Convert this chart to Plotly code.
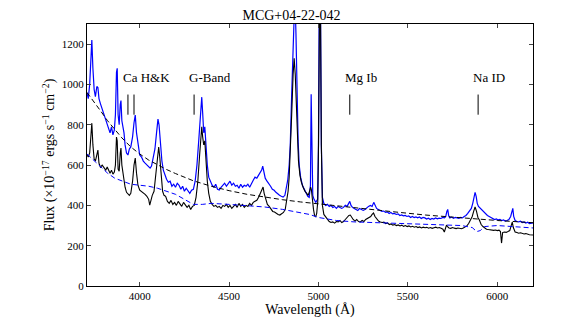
import plotly.graph_objects as go

# observed spectra (wavelength in Angstrom, flux in 1e-17 erg/s/cm2)
blue_wave = [3705, 3712, 3720, 3726, 3732, 3738, 3745, 3752, 3760, 3766, 3772, 3780, 3790, 3800, 3810,
             3818, 3826, 3834, 3842, 3850, 3858, 3864, 3870, 3874, 3879, 3885, 3891, 3895, 3900, 3906,
             3912, 3918, 3926, 3934, 3942, 3950, 3960, 3968, 3975, 3982, 3990, 4000, 4010, 4020, 4030,
             4040, 4050, 4058, 4066, 4075, 4085, 4094, 4102, 4108, 4116, 4124, 4132, 4140, 4150, 4160,
             4170, 4180, 4190, 4200, 4210, 4220, 4230, 4240, 4250, 4260, 4270, 4280, 4290, 4300, 4310,
             4320, 4330, 4340, 4347, 4352, 4358, 4364, 4370, 4378, 4386, 4395, 4405, 4415, 4425, 4435,
             4445, 4455, 4465, 4475, 4485, 4495, 4505, 4515, 4525, 4535, 4545, 4555, 4565, 4575, 4585,
             4595, 4605, 4615, 4625, 4635, 4645, 4655, 4665, 4672, 4682, 4688, 4694, 4702, 4712, 4722,
             4732, 4742, 4752, 4762, 4772, 4782, 4792, 4802, 4812, 4820, 4828, 4836, 4842, 4850, 4858,
             4862, 4868, 4874, 4880, 4886, 4892, 4900, 4910, 4920, 4930, 4940, 4948, 4955, 4959, 4963,
             4968, 4975, 4985, 4995, 5000, 5004, 5007, 5011, 5016, 5022, 5030, 5040, 5050, 5060, 5070,
             5080, 5090, 5100, 5110, 5120, 5130, 5140, 5150, 5160, 5168, 5175, 5182, 5190, 5200, 5210,
             5220, 5230, 5240, 5250, 5260, 5270, 5280, 5290, 5300, 5309, 5316, 5325, 5335, 5345, 5355,
             5365, 5375, 5385, 5395, 5405, 5415, 5425, 5435, 5445, 5455, 5465, 5475, 5485, 5495, 5505,
             5515, 5525, 5535, 5545, 5555, 5565, 5575, 5585, 5595, 5605, 5615, 5625, 5635, 5645, 5655,
             5665, 5675, 5685, 5695, 5705, 5712, 5718, 5723, 5728, 5735, 5745, 5755, 5765, 5775, 5785,
             5795, 5805, 5815, 5825, 5835, 5845, 5855, 5863, 5870, 5876, 5882, 5888, 5895, 5905, 5915,
             5925, 5935, 5945, 5955, 5965, 5975, 5985, 5995, 6005, 6015, 6025, 6035, 6045, 6055, 6065,
             6075, 6082, 6087, 6092, 6100, 6110, 6120, 6130, 6140, 6150, 6160, 6170, 6180, 6200]
blue_flux = [960, 930, 1000, 1150, 1220, 1080, 975, 940, 990, 985, 930, 905, 880, 850, 830,
             800, 790, 760, 790, 750, 775, 850, 1060, 1080, 850, 800, 900, 920, 820, 790,
             760, 700, 660, 650, 680, 690, 740, 810, 848, 760, 700, 650, 640, 620, 610,
             600, 590, 585, 595, 630, 680, 760, 828, 800, 700, 620, 575, 550, 530, 515,
             520, 495, 505, 490, 510, 500, 480, 495, 470, 485, 470, 460, 475, 480, 520,
             600, 720, 880, 937, 860, 760, 790, 700, 600, 540, 520, 500, 490, 505, 480,
             476, 490, 500, 510, 495, 505, 520, 500, 510, 495, 500, 485, 505, 490, 500,
             495, 505, 490, 510, 525, 540, 535, 550, 560, 575, 595, 570, 535, 520, 510,
             495, 480, 475, 465, 455, 450, 445, 441, 450, 480, 525, 600, 700, 950, 1250,
             1400, 1450, 1250, 950, 720, 600, 540, 500, 480, 460, 445, 440, 500, 952, 700,
             450, 430, 415, 430, 700, 1400, 1500, 1400, 700, 440, 410, 400, 405, 395, 400,
             390, 395, 385, 395, 390, 385, 390, 400, 395, 405, 420, 400, 390, 385, 380,
             375, 385, 380, 375, 380, 390, 395, 400, 395, 415, 400, 385, 380, 375, 370,
             372, 365, 368, 360, 365, 358, 360, 355, 358, 350, 353, 348, 350, 345, 348,
             340, 345, 340, 343, 338, 342, 335, 340, 338, 332, 336, 330, 335, 332, 338,
             333, 337, 335, 340, 338, 345, 370, 380, 350, 338, 342, 336, 340, 338, 336,
             340, 338, 345, 350, 360, 370, 385, 410, 440, 465, 445, 410, 395, 385, 375,
             365, 360, 350, 345, 340, 336, 330, 333, 328, 330, 325, 328, 322, 325, 330,
             345, 380, 385, 345, 325, 320, 318, 322, 315, 318, 312, 316, 310, 313]

black_wave = [3705, 3712, 3720, 3726, 3732, 3738, 3745, 3752, 3760, 3766, 3772, 3780, 3790, 3800, 3810,
              3818, 3826, 3834, 3842, 3850, 3858, 3864, 3870, 3874, 3879, 3885, 3891, 3895, 3900, 3906,
              3912, 3918, 3926, 3934, 3942, 3950, 3960, 3968, 3975, 3982, 3990, 4000, 4010, 4020, 4030,
              4040, 4050, 4056, 4062, 4070, 4080, 4090, 4100, 4106, 4112, 4120, 4128, 4136, 4145, 4155,
              4165, 4175, 4185, 4195, 4205, 4215, 4225, 4235, 4245, 4255, 4265, 4275, 4285, 4295, 4305,
              4315, 4325, 4335, 4347, 4352, 4358, 4364, 4370, 4378, 4386, 4395, 4405, 4415, 4425, 4435,
              4445, 4455, 4465, 4475, 4485, 4495, 4505, 4515, 4525, 4535, 4545, 4555, 4565, 4575, 4585,
              4595, 4605, 4615, 4625, 4635, 4645, 4655, 4665, 4672, 4682, 4690, 4696, 4704, 4714, 4724,
              4734, 4744, 4754, 4764, 4774, 4784, 4794, 4804, 4814, 4822, 4830, 4836, 4842, 4850, 4858,
              4864, 4870, 4876, 4882, 4888, 4896, 4904, 4914, 4924, 4934, 4942, 4950, 4956, 4960, 4966,
              4972, 4978, 4984, 4990, 4996, 5000, 5004, 5007, 5011, 5016, 5022, 5030, 5040, 5050, 5060,
              5070, 5080, 5090, 5100, 5110, 5120, 5130, 5140, 5150, 5160, 5170, 5178, 5186, 5194, 5204,
              5214, 5224, 5234, 5244, 5254, 5264, 5274, 5284, 5292, 5300, 5308, 5316, 5326, 5336, 5346,
              5356, 5366, 5376, 5386, 5396, 5406, 5416, 5426, 5436, 5446, 5456, 5466, 5476, 5486, 5496,
              5506, 5516, 5526, 5536, 5546, 5556, 5566, 5576, 5586, 5596, 5606, 5616, 5626, 5636, 5646,
              5656, 5666, 5676, 5686, 5696, 5704, 5710, 5716, 5722, 5730, 5740, 5750, 5760, 5770, 5780,
              5790, 5800, 5810, 5820, 5830, 5840, 5850, 5860, 5868, 5876, 5884, 5892, 5900, 5910, 5920,
              5930, 5940, 5950, 5960, 5970, 5980, 5990, 6000, 6010, 6018, 6024, 6030, 6040, 6050, 6060,
              6070, 6078, 6084, 6090, 6100, 6110, 6120, 6130, 6140, 6150, 6160, 6170, 6180, 6200]
black_flux = [650, 640, 660, 760, 808, 700, 630, 620, 660, 674, 610, 590, 600, 585, 575,
              590, 570, 560, 575, 555, 565, 600, 739, 720, 580, 570, 660, 684, 600, 560,
              520, 490, 465, 455, 450, 460, 520, 600, 635, 560, 500, 476, 470, 461, 455,
              445, 430, 401, 430, 450, 470, 560, 650, 690, 640, 540, 470, 450, 445, 420,
              410, 425, 405, 415, 400, 420, 410, 395, 415, 400, 390, 400, 380, 395, 400,
              440, 520, 650, 790, 740, 700, 720, 620, 520, 460, 420, 405, 395, 400, 390,
              395, 385, 400, 395, 405, 390, 400, 385, 395, 405, 390, 410, 395, 405, 390,
              400, 395, 410, 400, 415, 420, 425, 440, 455, 470, 491, 460, 430, 405, 395,
              380, 370, 367, 360, 355, 352, 358, 365, 380, 420, 470, 540, 650, 850, 1050,
              1130, 1050, 880, 720, 620, 550, 515, 490, 470, 460, 450, 470, 490, 480, 420,
              380, 350, 342, 360, 420, 700, 1400, 1500, 1400, 700, 400, 355, 342, 330, 320,
              315, 318, 312, 320, 318, 325, 315, 320, 330, 340, 350, 352, 340, 330, 322,
              330, 320, 318, 325, 320, 330, 335, 340, 345, 355, 362, 345, 330, 322, 318,
              315, 317, 310, 313, 305, 308, 302, 305, 300, 303, 298, 302, 296, 300, 295,
              298, 293, 296, 292, 295, 290, 293, 288, 292, 289, 291, 287, 290, 286, 289,
              292, 288, 290, 286, 282, 268, 290, 302, 295, 288, 286, 290, 287, 285, 288,
              286, 284, 288, 292, 298, 310, 325, 345, 370, 392, 370, 340, 327, 305, 295,
              287, 282, 280, 278, 279, 276, 278, 275, 277, 270, 213, 265, 268, 266, 270,
              275, 300, 317, 290, 268, 265, 262, 264, 260, 258, 260, 256, 254, 253]

# continuum fits (dashed)
black_cont_wave = [3705, 3740, 3780, 3820, 3860, 3900, 3950, 4000, 4050, 4100, 4150, 4200, 4300, 4400,
                   4500, 4600, 4700, 4800, 4900, 5000, 5200, 5400, 5600, 5800, 6000, 6200]
black_cont_flux = [960, 920, 870, 820, 775, 735, 690, 655, 625, 600, 578, 558, 522, 495,
                   473, 455, 441, 428, 417, 407, 388, 370, 352, 337, 325, 314]

blue_cont_wave = [3705, 3740, 3780, 3820, 3860, 3900, 3950, 4000, 4050, 4100, 4150, 4200, 4250, 4300,
                  4350, 4400, 4500, 4600, 4700, 4800, 4900, 4950, 5000, 5100, 5200, 5400, 5600, 5800,
                  5860, 5885, 5905, 5930, 6000, 6200]
blue_cont_flux = [655, 625, 590, 560, 535, 520, 505, 500, 495, 485, 470, 455, 430, 405,
                  405, 410, 405, 400, 392, 380, 365, 355, 340, 325, 318, 312, 306, 300,
                  290, 270, 275, 295, 300, 288]

# absorption features marked
mark_wave = [3934, 3968, 4304, 5175, 5893]
label_wave = [3934, 4304, 5175, 5893]
label_text = ["Ca H&K", "G-Band", "Mg Ib", "Na ID"]

SERIF = "Liberation Serif, DejaVu Serif, serif"

fig = go.Figure()

fig.add_trace(go.Scatter(x=blue_wave, y=blue_flux, mode="lines",
                         line=dict(color="#0000ff", width=1.2)))
fig.add_trace(go.Scatter(x=black_wave, y=black_flux, mode="lines",
                         line=dict(color="black", width=1.1)))
fig.add_trace(go.Scatter(x=black_cont_wave, y=black_cont_flux, mode="lines",
                         line=dict(color="black", width=1, dash="5px,3px")))
fig.add_trace(go.Scatter(x=blue_cont_wave, y=blue_cont_flux, mode="lines",
                         line=dict(color="#0000ff", width=1, dash="5px,3px")))

# tick marks for the absorption lines
for w in mark_wave:
    fig.add_shape(type="line", x0=w, x1=w, y0=850, y1=950, xref="x", yref="y",
                  line=dict(color="black", width=1))

for w, t in zip(label_wave, label_text):
    fig.add_annotation(x=w - 38, y=985, text=t, showarrow=False, xanchor="left",
                       yanchor="bottom", font=dict(family=SERIF, size=13, color="black"))

fig.update_xaxes(range=[3705, 6200], tickvals=[4000, 4500, 5000, 5500, 6000],
                 ticks="inside", ticklen=4, mirror="ticks", showline=True,
                 linecolor="black", linewidth=1, showgrid=False, zeroline=False,
                 automargin=False,
                 tickfont=dict(family=SERIF, size=11, color="black"),
                 title=dict(text="Wavelength (Å)", standoff=2,
                            font=dict(family=SERIF, size=14, color="black")))
fig.update_yaxes(range=[0, 1300], dtick=200, tick0=0,
                 ticks="inside", ticklen=4, mirror="ticks", showline=True,
                 linecolor="black", linewidth=1, showgrid=False, zeroline=False,
                 automargin=False,
                 tickfont=dict(family=SERIF, size=11, color="black"),
                 title=dict(text="Flux (×10<sup>−17</sup> ergs s<sup>−1</sup> cm<sup>−2</sup>)",
                            standoff=3, font=dict(family=SERIF, size=14, color="black")))

# the page body adds an 8px offset, so the figure is drawn 8px smaller
fig.update_layout(
    width=567, height=319,
    margin=dict(l=79, r=42, t=16, b=41, autoexpand=False),
    paper_bgcolor="white", plot_bgcolor="white",
    showlegend=False,
    title=dict(text="MCG+04-22-042", x=0.5, xanchor="center", y=0.978, yanchor="middle",
               font=dict(family=SERIF, size=14, color="black")),
)

fig.write_html("out.html")
